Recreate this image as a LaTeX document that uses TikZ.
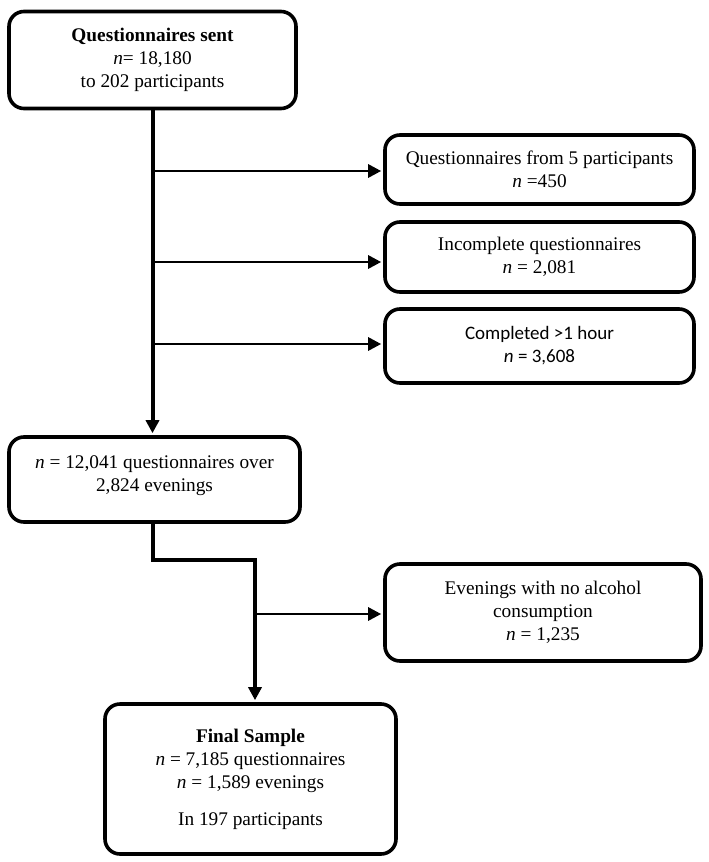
\documentclass[tikz,border=0pt]{standalone}
\usepackage{fontspec}
\setmainfont{Liberation Serif}
\newfontfamily\calibri{Carlito}
\usetikzlibrary{arrows.meta,positioning}

\begin{document}
\begin{tikzpicture}[%
    x=1pt, y=-1pt,
    >={Triangle[length=13pt,width=13pt]},
    box/.style={draw, line width=3.6pt, rounded corners=15pt, align=center,
      inner sep=0pt, font=\fontsize{19.3}{23}\selectfont},
    trunk/.style={line width=4pt, ->, shorten >=2pt},
    branch/.style={line width=2.8pt, ->, shorten >=2pt}
  ]
    \useasboundingbox (0,0) rectangle (709,862);

    \node[box, minimum width=287pt, minimum height=97pt] (sent) at (152.5,60)
      {\textbf{Questionnaires sent}\\ \textit{n}= 18,180\\ to 202 participants};
    \node[box, minimum width=309pt, minimum height=69pt] (five) at (539.5,169.5)
      {Questionnaires from 5 participants\\ \textit{n} =450};
    \node[box, minimum width=309pt, minimum height=70pt] (incomplete) at (539.5,257)
      {Incomplete questionnaires\\ \textit{n} = 2,081};
    \node[box, minimum width=309pt, minimum height=74pt, font=\calibri\fontsize{19}{23}\selectfont] (hour) at (539.5,346)
      {Completed >1 hour\\ \textit{n} = 3,608};
    \node[box, minimum width=291pt, minimum height=85pt] (evenings) at (154.5,479.5)
      {\textit{n} = 12,041 questionnaires over\\ 2,824 evenings\\[-11pt]};
    \node[box, minimum width=316pt, minimum height=97pt] (alcohol) at (543,612.5)
      {Evenings with no alcohol\\ consumption\\ \textit{n} = 1,235};
    \node[box, minimum width=291pt, minimum height=150pt] (final) at (250.5,779)
      {\textbf{Final Sample}\\ \textit{n} = 7,185 questionnaires\\ \textit{n} = 1,589 evenings\\[14pt] In 197 participants};

    % exclusions from the sent questionnaires
    \draw[trunk] (sent.south) -- (sent.south |- evenings.north);
    \foreach \y/\to in {171/five, 262/incomplete, 344/hour}
      \draw[branch] (sent.south |- 0,\y) -- (\to.west |- 0,\y);

    % evenings to final sample
    \coordinate (elbow) at (255,560);
    \draw[trunk] (evenings.south -| sent.south) |- (elbow) -- (elbow |- final.north);
    \draw[branch] (elbow |- 0,614) -- (alcohol.west |- 0,614);
  \end{tikzpicture}
\end{document}
